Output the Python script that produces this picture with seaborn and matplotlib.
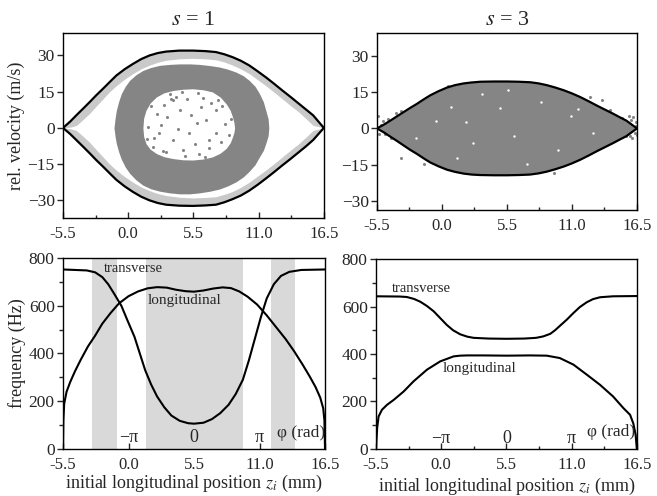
import numpy as np
import matplotlib
matplotlib.use('Agg')
import matplotlib.pyplot as plt
import seaborn as sns

# ---- phase-space data, s = 1 (separatrix, particle band, ring) ----
sep1_x = [-5.5, -4.9, -4.38, -3.8, -3.25, -2.7, -2.13, -1.56, -1.0, -0.3, 0.4, 1.1, 1.8, 2.5, 3.2, 4.3, 5.45,
          6.5, 7.4, 8.1, 8.8, 9.5, 10.2, 10.9, 11.6, 12.3, 13.0, 13.7, 14.4, 15.0, 15.6, 16.5]
sep1_up = [0, 2.6, 5.2, 8.0, 10.7, 13.5, 16.2, 19.0, 21.7, 24.3, 26.5, 28.5, 30.0, 31.0, 31.6, 32.0, 32.0,
           31.8, 31.4, 30.5, 29.3, 27.8, 25.9, 23.5, 21.0, 18.3, 15.5, 12.8, 10.0, 7.6, 5.2, 0]
sep1_lo = [0, -2.5, -5.0, -7.8, -10.5, -13.3, -16.0, -18.8, -21.5, -24.2, -26.5, -28.5, -30.0, -31.1, -31.8,
           -32.2, -32.3, -32.1, -31.8, -30.8, -29.5, -28.0, -26.0, -23.6, -21.0, -18.3, -15.5, -12.8, -10.0,
           -7.6, -5.0, 0]
band1_up = [0, 0.3, 1.0, 3.5, 6.0, 9.0, 12.0, 15.0, 17.5, 20.2, 22.5, 24.5, 26.0, 27.2, 28.0, 28.6, 28.8,
            28.6, 28.2, 27.3, 26.0, 24.4, 22.5, 20.0, 17.5, 14.8, 12.0, 9.2, 6.5, 3.8, 1.0, 0]
band1_lo = [0, -0.3, -1.0, -3.5, -6.0, -9.0, -12.0, -15.0, -17.5, -20.2, -22.5, -24.5, -26.0, -27.2, -28.0,
            -28.7, -29.0, -28.8, -28.5, -27.5, -26.3, -24.6, -22.5, -20.0, -17.5, -14.8, -12.0, -9.2, -6.5,
            -3.8, -1.0, 0]

ring_x = [-1.2, -1.1, -1.0, -0.8, -0.58, -0.25, 0.12, 0.65, 1.24, 1.9, 2.65, 3.5, 4.33, 5.2, 6.0, 6.9, 7.7,
          8.4, 9.1, 9.7, 10.2, 10.7, 11.07, 11.4, 11.6, 11.8, 11.86]
ring_up = [0, 4.2, 7.3, 11.0, 14.2, 17.2, 19.7, 22.0, 23.8, 25.0, 25.9, 26.3, 26.5, 26.5, 26.3, 25.8, 25.2,
           24.3, 23.1, 21.6, 19.7, 17.2, 14.2, 10.8, 7.3, 3.8, 0]
ring_lo = [0, -3.8, -6.5, -10.0, -13.0, -16.2, -18.8, -21.5, -23.7, -25.2, -26.2, -26.9, -27.3, -27.3, -26.9,
           -26.2, -25.3, -24.0, -22.3, -20.3, -18.0, -15.2, -12.0, -9.3, -6.5, -3.3, 0]

hole_x = [1.24, 1.3, 1.5, 1.85, 2.37, 3.0, 3.77, 4.6, 5.45, 6.3, 7.1, 7.75, 8.26, 8.6, 8.8, 8.92, 8.97]
hole_up = [0, 4.0, 7.3, 10.3, 12.8, 14.5, 15.5, 16.0, 16.2, 15.8, 14.9, 12.8, 10.0, 7.3, 4.5, 2.2, 0]
hole_lo = [0, -3.5, -6.5, -8.8, -10.6, -11.9, -12.7, -13.2, -13.3, -12.9, -12.0, -10.5, -8.5, -6.2, -3.7,
           -1.8, 0]

# sparse particles inside the ring hole
pts1_x = [3.8, 4.4, 3.3, 2.4, 6.1, 6.6, 7.4, 5.1, 5.6, 3.8, 2.6, 2.1, 6.8, 7.4, 6.0, 4.6, 3.2, 8.2, 1.7,
          4.0, 5.0, 6.3, 7.0, 3.0, 5.8, 4.2, 7.8, 2.8, 5.3, 6.8, 4.8, 3.5, 7.6, 2.2, 1.9, 8.5, 2.9, 6.5,
          4.5, 5.9, 7.9, 3.6, 1.6, 8.7]
pts1_y = [11.4, 7.3, 4.5, 5.9, 8.7, 3.2, 7.3, -2.3, -6.5, -5.1, -2.3, -7.8, -5.1, -2.3, -10.6, -9.2, -10.0,
          1.8, 0.5, 13.0, 12.0, 12.5, 10.5, 9.5, 2.0, -0.5, -6.0, 1.0, 5.5, -8.5, -11.5, 14.0, 11.5, -4.0,
          9.0, -3.0, -9.5, -12.0, 15.0, 14.5, 9.0, 12.0, -4.5, 3.5]

# ---- phase-space data, s = 3 ----
sep3_x = [-5.5, -4.9, -4.37, -3.8, -3.25, -2.7, -2.12, -1.56, -1.0, -0.3, 0.42, 1.1, 1.82, 2.5, 3.23, 4.4,
          5.5, 6.5, 7.46, 8.2, 8.87, 9.6, 10.3, 11.0, 11.7, 12.4, 13.1, 13.8, 14.5, 15.0, 15.6, 16.5]
sep3_up = [0, 1.6, 3.2, 5.0, 6.7, 8.4, 10.1, 11.9, 13.6, 15.3, 16.8, 17.8, 18.5, 18.9, 19.2, 19.3, 19.3,
           19.2, 19.0, 18.5, 17.8, 16.8, 15.7, 14.4, 12.9, 11.2, 9.4, 7.7, 6.0, 4.7, 3.2, 0]
sep3_lo = [0, -1.7, -3.4, -5.2, -7.0, -8.8, -10.5, -12.3, -14.0, -15.6, -17.0, -17.9, -18.6, -19.0, -19.2,
           -19.3, -19.3, -19.2, -19.0, -18.5, -17.8, -16.8, -15.7, -14.4, -12.9, -11.2, -9.4, -7.7, -6.0,
           -4.7, -3.2, 0]

out3_x = [-5.4, -5.2, -5.0, -4.8, -4.3, -3.9, -3.5, -3.5, -5.3, -4.6, 15.2, 15.5, 15.8, 16.0, 16.2, 16.4,
          16.5, 15.9, 16.3, 14.8, 13.5, 12.5, 0.5, 2.2, 9.5, -1.5, 16.1, 15.6, 16.4, 14.2]
out3_y = [5.0, 1.5, 3.0, -2.5, -4.0, 6.5, 7.0, -12.0, -2.5, 4.0, 4.2, 3.2, 5.0, 3.5, 4.5, 2.5,
          -2.8, -3.3, -1.8, 2.0, 11.5, 12.8, 17.5, -18.0, -18.3, -14.5, -4.0, -3.0, 1.0, 7.5]
gap3_x = [-2.2, 0.8, 2.6, 4.9, 6.1, 8.4, 10.9, 12.8, 3.4, 1.3, 7.2, 9.8, -0.5, 5.6, 11.5, 2.0]
gap3_y = [-4.0, 9.0, -6.0, 8.5, -3.0, 11.0, 5.0, -2.0, 14.0, -12.0, -14.5, -9.0, 3.0, 16.0, 8.0, 2.5]

# ---- frequencies, s = 1 ----
tr1_x = [-5.5, -3.5, -2.8, -2.2, -1.7, -1.2, -0.6, -0.1, 0.5, 0.95, 1.4, 1.9, 2.4, 3.0, 3.6, 4.3, 5.0, 5.5,
         6.3, 7.0, 7.7, 8.4, 9.0, 9.6, 10.1, 10.6, 11.1, 11.6, 12.2, 12.8, 13.5, 14.5, 16.5]
tr1_y = [752, 748, 740, 720, 690, 650, 600, 540, 470, 400, 330, 270, 220, 175, 140, 118, 108, 106,
         110, 125, 150, 185, 230, 290, 370, 460, 550, 630, 690, 725, 742, 750, 752]
lo1_x = [-5.5, -5.47, -5.4, -5.2, -4.9, -4.5, -4.0, -3.4, -2.8, -2.2, -1.5, -0.8, 0.0, 0.8, 1.6, 2.4, 3.2,
         4.0, 4.8, 5.5, 6.3, 7.1, 7.9, 8.6, 9.3, 10.0, 10.8, 11.6, 12.4, 13.2, 13.9, 14.6, 15.2, 15.7, 16.1,
         16.35, 16.45, 16.5]
lo1_y = [0, 120, 190, 240, 280, 325, 375, 430, 475, 525, 570, 610, 640, 660, 673, 678, 676, 667, 661, 659,
         664, 672, 677, 674, 660, 638, 605, 560, 510, 460, 410, 355, 305, 260, 215, 170, 120, 0]
bands1 = [(-3.05, -1.0), (1.45, 9.6), (11.95, 14.0)]

# ---- frequencies, s = 3 ----
tr3_x = [-5.5, -3.5, -2.9, -2.3, -1.76, -1.2, -0.64, -0.1, 0.48, 1.0, 1.6, 2.2, 2.73, 4.0, 5.5, 7.0, 8.0,
         8.6, 9.2, 9.6, 10.0, 10.6, 11.16, 11.7, 12.28, 12.8, 13.4, 14.5, 16.5]
tr3_y = [643, 642, 640, 632, 620, 602, 580, 552, 522, 500, 483, 473, 468, 465, 464, 465, 468, 474, 485, 500,
         518, 545, 573, 598, 618, 631, 639, 643, 644]
lo3_x = [-5.5, -5.4, -5.28, -5.0, -4.57, -4.0, -3.17, -2.33, -1.2, -0.08, 1.05, 1.6, 2.17, 3.5, 5.54, 7.5,
         8.9, 10.0, 11.16, 12.28, 13.4, 14.5, 15.37, 15.93, 16.2, 16.4, 16.5]
lo3_y = [0, 90, 137, 165, 186, 207, 242, 285, 334, 369, 390, 393, 394, 394, 393, 394, 393, 383, 355, 313,
         270, 221, 172, 144, 108, 60, 0]

xticks = [-5.5, 0.0, 5.5, 11.0, 16.5]
xtick_labels = ['-5.5', '0.0', '5.5', '11.0', '16.5']
phase_pos = [0.0, 5.5, 11.0]
phase_labels = ['−π', '0', 'π']

sns.set_style('ticks')
plt.rcParams['font.family'] = ['Liberation Serif', 'DejaVu Serif']
plt.rcParams['mathtext.fontset'] = 'stix'
plt.rcParams['axes.linewidth'] = 1.0
plt.rcParams['axes.edgecolor'] = 'black'

fig = plt.figure(figsize=(6.57, 4.96), dpi=100)
ax_tl = fig.add_axes([0.0959, 0.5605, 0.397, 0.373])
ax_tr = fig.add_axes([0.5738, 0.5766, 0.3957, 0.357])
ax_bl = fig.add_axes([0.0959, 0.0948, 0.3988, 0.385])
ax_br = fig.add_axes([0.5723, 0.0948, 0.397, 0.383])

DARK = '#858585'
LIGHT = '#c9c9c9'


def style_axis(ax):
    ax.set_xlim(-5.5, 16.5)
    ax.set_xticks(xticks)
    ax.set_xticklabels(xtick_labels)
    ax.set_xticks([-2.75, 2.75, 8.25, 13.75], minor=True)
    ax.tick_params(axis='x', which='both', direction='in', length=4, width=1, labelsize=12, pad=6)
    ax.tick_params(axis='x', which='minor', length=2.5)
    ax.tick_params(axis='y', which='both', direction='out', length=4, width=1, labelsize=12.5, pad=2)
    ax.tick_params(axis='y', which='minor', length=3)
    for sp in ax.spines.values():
        sp.set_visible(True)
        sp.set_color('black')
        sp.set_linewidth(1.0)
    ax.set_xlabel('')
    ax.set_ylabel('')


# top-left: s = 1
ax = ax_tl
ax.fill_between(sep1_x, band1_up, sep1_up, color=LIGHT, lw=0)
ax.fill_between(sep1_x, sep1_lo, band1_lo, color=LIGHT, lw=0)
ax.fill_between(ring_x, ring_lo, ring_up, color=DARK, lw=0)
ax.fill_between(hole_x, hole_lo, hole_up, color='white', lw=0)
sns.scatterplot(x=pts1_x, y=pts1_y, color=DARK, s=5, linewidth=0, ax=ax)
sns.lineplot(x=sep1_x, y=sep1_up, color='black', lw=1.6, ax=ax)
sns.lineplot(x=sep1_x, y=sep1_lo, color='black', lw=1.6, ax=ax)
style_axis(ax)
ax.set_ylim(-37.3, 39.3)
ax.set_yticks([-30, -15, 0, 15, 30])
ax.set_ylabel('rel. velocity (m/s)', fontsize=13, labelpad=2)
ax.set_title('$s$ = 1', fontsize=16, pad=6)

# top-right: s = 3
ax = ax_tr
ax.fill_between(sep3_x, sep3_lo, sep3_up, color=DARK, lw=0)
sns.scatterplot(x=out3_x, y=out3_y, color=DARK, s=5, linewidth=0, ax=ax)
sns.scatterplot(x=gap3_x, y=gap3_y, color='white', s=3, linewidth=0, ax=ax)
sns.lineplot(x=sep3_x, y=sep3_up, color='black', lw=1.6, ax=ax)
sns.lineplot(x=sep3_x, y=sep3_lo, color='black', lw=1.6, ax=ax)
style_axis(ax)
ax.set_ylim(-33.6, 39.3)
ax.set_yticks([-30, -15, 0, 15, 30])
ax.set_title('$s$ = 3', fontsize=16, pad=6)

# bottom-left: frequencies s = 1
ax = ax_bl
for a, b in bands1:
    ax.axvspan(a, b, color='#d9d9d9', lw=0)
sns.lineplot(x=tr1_x, y=tr1_y, color='black', lw=1.5, ax=ax)
sns.lineplot(x=lo1_x, y=lo1_y, color='black', lw=1.5, ax=ax)
style_axis(ax)
ax.set_ylim(0, 800)
ax.set_yticks([0, 200, 400, 600, 800])
ax.set_yticks([100, 300, 500, 700], minor=True)
ax.set_ylabel('frequency (Hz)', fontsize=13, labelpad=2)
ax.set_xlabel('initial longitudinal position $z_i$ (mm)', fontsize=13, labelpad=0)
ax.text(-2.1, 758, 'transverse', fontsize=10.5, va='center', ha='left')
ax.text(1.6, 623, 'longitudinal', fontsize=11, va='center', ha='left')
for p, lab in zip(phase_pos, phase_labels):
    ax.text(p, 48, lab, fontsize=13, ha='center', va='center')
ax.text(12.5, 69, 'φ (rad)', fontsize=12.5, ha='left', va='center')

# bottom-right: frequencies s = 3
ax = ax_br
sns.lineplot(x=tr3_x, y=tr3_y, color='black', lw=1.5, ax=ax)
sns.lineplot(x=lo3_x, y=lo3_y, color='black', lw=1.5, ax=ax)
style_axis(ax)
ax.set_ylim(0, 800)
ax.set_yticks([0, 200, 400, 600, 800])
ax.set_yticks([100, 300, 500, 700], minor=True)
ax.set_xlabel('initial longitudinal position $z_i$ (mm)', fontsize=13, labelpad=2)
ax.text(-4.15, 674, 'transverse', fontsize=10.5, va='center', ha='left')
ax.text(0.15, 341, 'longitudinal', fontsize=11, va='center', ha='left')
for p, lab in zip(phase_pos, phase_labels):
    ax.text(p, 46, lab, fontsize=13, ha='center', va='center')
ax.text(12.3, 72, 'φ (rad)', fontsize=12.5, ha='left', va='center')

fig.savefig('out.png', dpi=100)
